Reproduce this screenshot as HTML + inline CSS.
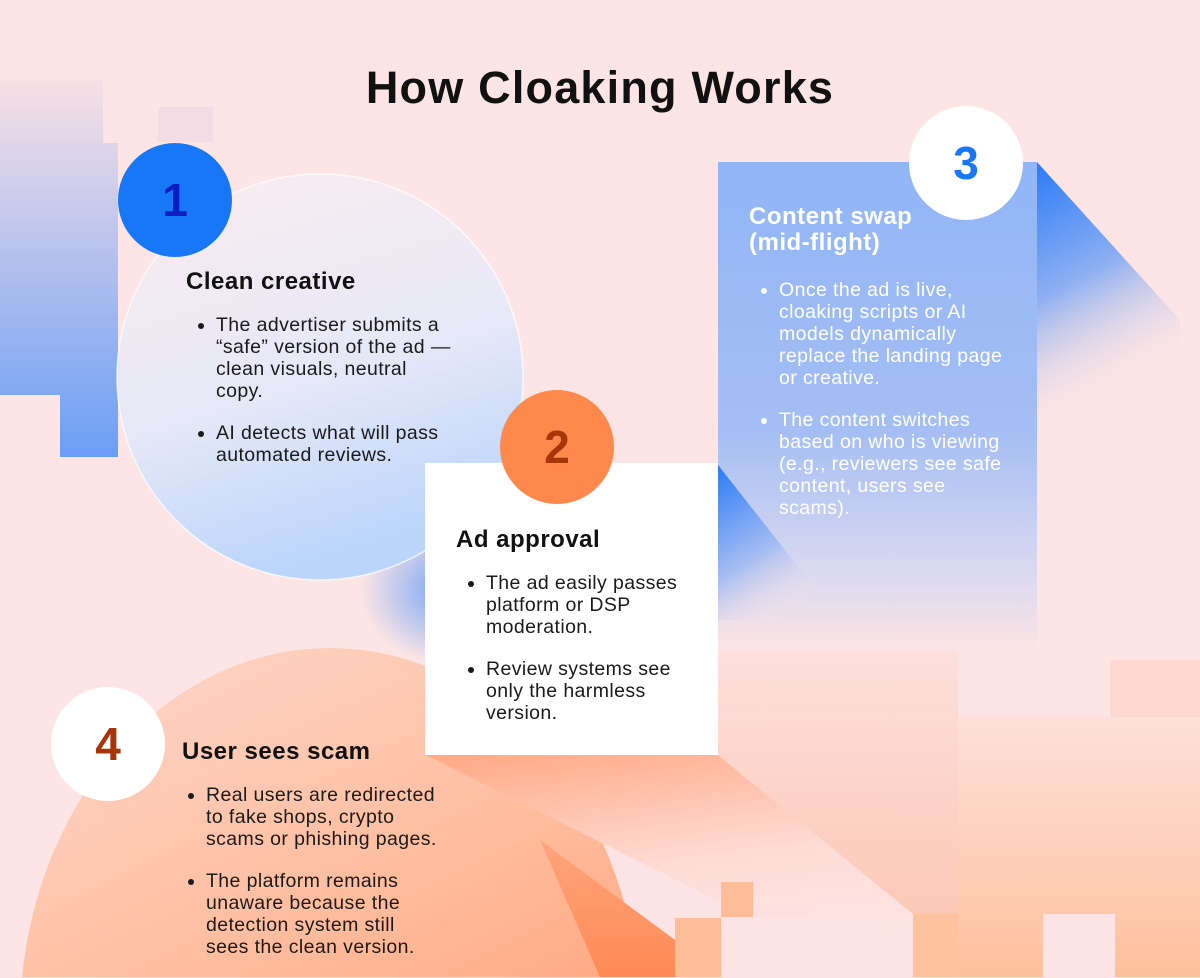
<!DOCTYPE html>
<html><head><meta charset="utf-8"><style>
*{margin:0;padding:0;box-sizing:border-box}
body{width:1200px;height:977px;overflow:hidden;background:#fde5e5;font-family:"Liberation Sans",sans-serif;position:relative}
svg{position:absolute;left:0;top:0}
h1{position:absolute;left:0;width:1200px;top:62px;text-align:center;font-size:45px;font-weight:bold;color:#111;letter-spacing:1.2px}
h2{position:absolute;font-size:24px;font-weight:bold;color:#111;white-space:nowrap;letter-spacing:0.5px}
ul{position:absolute;font-size:19.5px;line-height:22px;color:#1a1a1a;padding-left:30px;white-space:nowrap;letter-spacing:0.4px}
li{margin-bottom:20px}
.n{position:absolute;width:114px;height:114px;border-radius:50%;text-align:center;line-height:114px;font-size:46px;font-weight:bold}
</style></head><body>
<svg width="1200" height="977">
<defs>
<linearGradient id="lb" x1="0" y1="0" x2="0" y2="1"><stop offset="0" stop-color="#f7e0e6"/><stop offset="1" stop-color="#6a9ef5"/></linearGradient>
<linearGradient id="c1" x1="0" y1="0" x2="0.3" y2="1"><stop offset="0" stop-color="#fbecef"/><stop offset="0.6" stop-color="#e6e8f7"/><stop offset="1" stop-color="#bcd5fb"/></linearGradient>
<radialGradient id="glow" cx="0.5" cy="0.5" r="0.5"><stop offset="0" stop-color="#6ea3f8"/><stop offset="1" stop-color="#6ea3f8" stop-opacity="0"/></radialGradient>
<linearGradient id="p3" x1="0" y1="0" x2="0" y2="1"><stop offset="0" stop-color="#91b5f6"/><stop offset="0.55" stop-color="#a5bef3"/><stop offset="0.85" stop-color="#dcdaf0"/><stop offset="1" stop-color="#fde4e4"/></linearGradient>
<linearGradient id="tri" x1="0" y1="0" x2="0.3" y2="1"><stop offset="0" stop-color="#2a7bf6"/><stop offset="0.5" stop-color="#8fb0f2"/><stop offset="1" stop-color="#fde4e4" stop-opacity="0"/></linearGradient>
<linearGradient id="tri2" x1="0" y1="0" x2="0.5" y2="1"><stop offset="0" stop-color="#2a7bf6"/><stop offset="0.6" stop-color="#a6bdf2"/><stop offset="1" stop-color="#fde4e4" stop-opacity="0"/></linearGradient>
<linearGradient id="orc" x1="0" y1="0" x2="0.4" y2="1"><stop offset="0" stop-color="#fed8cc"/><stop offset="0.5" stop-color="#ffbb9b"/><stop offset="1" stop-color="#ff9466"/></linearGradient>
<linearGradient id="diag" x1="0" y1="0" x2="0.3" y2="1"><stop offset="0" stop-color="#ffa883"/><stop offset="0.6" stop-color="#fedcd6"/><stop offset="1" stop-color="#fde4e4"/></linearGradient>
<linearGradient id="og" x1="0" y1="0" x2="0" y2="1"><stop offset="0" stop-color="#ffa47c"/><stop offset="1" stop-color="#ff8a55"/></linearGradient>
<linearGradient id="pe" x1="0" y1="0" x2="0" y2="1"><stop offset="0" stop-color="#fde0da"/><stop offset="1" stop-color="#fec09c"/></linearGradient>
<linearGradient id="pk" x1="0" y1="0" x2="0" y2="1"><stop offset="0" stop-color="#fde4e4"/><stop offset="1" stop-color="#fcc8b6"/></linearGradient>
</defs>
<polygon points="0,80 103,80 103,143 118,143 118,457 60,457 60,395 0,395" fill="url(#lb)"/>
<rect x="158" y="107" width="55" height="35" fill="#f3dde4"/>
<ellipse cx="450" cy="590" rx="90" ry="75" fill="url(#glow)"/>
<ellipse cx="330" cy="1020" rx="310" ry="372" fill="url(#orc)"/>
<polygon points="426,755 718,755 913,914 913,977 870,977" fill="url(#diag)"/>
<polygon points="540,840 675,940 675,977 600,977" fill="url(#og)"/>
<polygon points="718,600 958,600 958,914 913,914 718,755" fill="url(#pk)"/>
<rect x="1110" y="660" width="90" height="60" fill="#fdd9d2"/>
<rect x="958" y="717" width="242" height="260" fill="url(#pe)"/>
<rect x="913" y="914" width="45" height="63" fill="#fec29f"/>
<rect x="1043" y="914" width="72" height="63" fill="#fde3e3"/>
<rect x="675" y="918" width="46" height="59" fill="#fdbd98"/>
<rect x="721" y="882" width="32" height="35" fill="#fdbd98"/>
<rect x="721" y="918" width="150" height="59" fill="#fde3e3"/>
<polygon points="1037,162 1180,320 1180,420 1037,420" fill="url(#tri)"/>
<rect x="718" y="162" width="319" height="490" fill="url(#p3)"/>
<polygon points="718,465 840,620 718,620" fill="url(#tri2)"/>
<circle cx="320" cy="377" r="203" fill="url(#c1)" stroke="#fff" stroke-opacity="0.7" stroke-width="1.5"/>
<rect x="425" y="463" width="293" height="292" fill="#fff"/>
</svg>
<h1>How Cloaking Works</h1>
<div class="n" style="left:118px;top:143px;background:#1877f6;color:#0a1ec4">1</div>
<div class="n" style="left:500px;top:390px;background:#ff884c;color:#a83508">2</div>
<div class="n" style="left:909px;top:106px;background:#fff;color:#1877f6">3</div>
<div class="n" style="left:51px;top:687px;background:#fff;color:#a83508">4</div>
<h2 style="left:186px;top:268px">Clean creative</h2>
<ul style="left:186px;top:314px"><li>The advertiser submits a<br>“safe” version of the ad —<br>clean visuals, neutral<br>copy.</li><li>AI detects what will pass<br>automated reviews.</li></ul>
<h2 style="left:456px;top:526px">Ad approval</h2>
<ul style="left:456px;top:572px"><li>The ad easily passes<br>platform or DSP<br>moderation.</li><li>Review systems see<br>only the harmless<br>version.</li></ul>
<h2 style="left:749px;top:204px;line-height:26px;color:#fff">Content swap<br>(mid-flight)</h2>
<ul style="left:749px;top:279px;color:#fff"><li>Once the ad is live,<br>cloaking scripts or AI<br>models dynamically<br>replace the landing page<br>or creative.</li><li>The content switches<br>based on who is viewing<br>(e.g., reviewers see safe<br>content, users see<br>scams).</li></ul>
<h2 style="left:182px;top:738px">User sees scam</h2>
<ul style="left:176px;top:784px"><li>Real users are redirected<br>to fake shops, crypto<br>scams or phishing pages.</li><li>The platform remains<br>unaware because the<br>detection system still<br>sees the clean version.</li></ul>
</body></html>
